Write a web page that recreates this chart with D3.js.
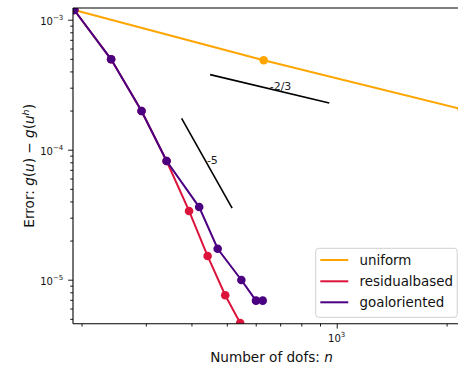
<!DOCTYPE html>
<html>
<head>
<meta charset="utf-8">
<script src="https://cdn.jsdelivr.net/npm/d3@7"></script>
<style>
  html, body { margin: 0; padding: 0; background: #fff; }
  svg { display: block; font-family: "DejaVu Sans", sans-serif; }
</style>
</head>
<body>
<svg id="chart" width="458" height="369"></svg>
<script>
// ---- data ----
const seriesNames = ["uniform", "residualbased", "goaloriented"];
const seriesColors = ["#FFA500", "#DC143C", "#4B0082"];

const uniformDofs = [191, 631, 2200];
const uniformErr  = [1.187e-3, 4.87e-4, 2.05e-4];

const residualDofs = [191, 241, 292, 342, 394, 443, 495, 544];
const residualErr  = [1.187e-3, 4.96e-4, 1.985e-4, 8.18e-5, 3.38e-5, 1.52e-5, 7.59e-6, 4.65e-6];

const goalDofs = [191, 241, 292, 342, 420, 472, 548, 601, 627];
const goalErr  = [1.187e-3, 4.96e-4, 1.985e-4, 8.18e-5, 3.62e-5, 1.73e-5, 9.95e-6, 6.9e-6, 6.9e-6];

// slope indicators
const slopeLabels    = ["-2/3", "-5"];
const slopeRates     = [-2/3, -5];
const slopeStartDofs = [450, 376];
const slopeStartErr  = [3.78e-4, 1.744e-4];
const slopeEndDofs   = [954, 517];

const xMajorTicks = [1000];
const xTickLabels = ["3"];
const yMajorTicks = [1e-5, 1e-4, 1e-3];
const yTickLabels = ["\u22125", "\u22124", "\u22123"];

// ---- layout ----
const svg = d3.select("#chart");
const L = 73, T = 8, B = 323.7, R = 470;

const x = d3.scaleLog().domain([189.5, 2318]).range([L, R]);
const y = d3.scaleLog().domain([4.587e-6, 1.2303e-3]).range([B, T]);

// clip
svg.append("defs").append("clipPath").attr("id", "clip")
  .append("rect").attr("x", L).attr("y", T).attr("width", R - L).attr("height", B - T);

// minor ticks
const xMinor = x.ticks().filter(v => !xMajorTicks.includes(v));
const yMinor = y.ticks().filter(v => !yMajorTicks.some(m => Math.abs(m - v) / m < 1e-9));

const gx = svg.append("g").attr("transform", `translate(0,${B})`);
gx.call(d3.axisBottom(x).tickValues(xMinor).tickSize(2.8).tickFormat(""));
gx.call(g => g.select(".domain").remove());
const gx2 = svg.append("g").attr("transform", `translate(0,${B})`);
gx2.call(d3.axisBottom(x).tickValues(xMajorTicks).tickSize(4.9).tickFormat(""));
gx2.call(g => g.select(".domain").remove());

const gy = svg.append("g").attr("transform", `translate(${L},0)`);
gy.call(d3.axisLeft(y).tickValues(yMinor).tickSize(2.8).tickFormat(""));
gy.call(g => g.select(".domain").remove());
const gy2 = svg.append("g").attr("transform", `translate(${L},0)`);
gy2.call(d3.axisLeft(y).tickValues(yMajorTicks).tickSize(4.9).tickFormat(""));
gy2.call(g => g.select(".domain").remove());

svg.selectAll(".tick line").attr("stroke", "#000").attr("stroke-width", 0.9);

// tick labels
xMajorTicks.forEach((v, i) => {
  const t = svg.append("text").attr("x", x(v)).attr("y", 342.3)
    .attr("text-anchor", "middle").attr("font-size", 10).attr("fill", "#111");
  t.append("tspan").text("10");
  t.append("tspan").attr("dy", -5).attr("font-size", 7).text(xTickLabels[i]);
});
yMajorTicks.forEach((v, i) => {
  const t = svg.append("text").attr("x", 63.3).attr("y", y(v) + 5)
    .attr("text-anchor", "end").attr("font-size", 10).attr("fill", "#111");
  t.append("tspan").text("10");
  t.append("tspan").attr("dy", -5).attr("font-size", 7).text(yTickLabels[i]);
});

// series
const plot = svg.append("g").attr("clip-path", "url(#clip)");
const allDofs = [uniformDofs, residualDofs, goalDofs];
const allErr = [uniformErr, residualErr, goalErr];
const line = d3.line().x(d => x(d[0])).y(d => y(d[1]));

allDofs.forEach((dofs, s) => {
  const pts = dofs.map((n, i) => [n, allErr[s][i]]);
  plot.append("path").datum(pts).attr("d", line)
    .attr("fill", "none").attr("stroke", seriesColors[s]).attr("stroke-width", 2);
  plot.selectAll(null).data(pts).enter().append("circle")
    .attr("cx", d => x(d[0])).attr("cy", d => y(d[1])).attr("r", 4.3)
    .attr("fill", seriesColors[s]);
});

// slope indicators
slopeLabels.forEach((lab, i) => {
  const n0 = slopeStartDofs[i], e0 = slopeStartErr[i], n1 = slopeEndDofs[i];
  const e1 = e0 * Math.pow(n1 / n0, slopeRates[i]);
  plot.append("line").attr("x1", x(n0)).attr("y1", y(e0)).attr("x2", x(n1)).attr("y2", y(e1))
    .attr("stroke", "#000").attr("stroke-width", 1.6);
  const nm = Math.sqrt(n0 * n1), em = Math.sqrt(e0 * e1);
  svg.append("text").attr("x", x(nm)).attr("y", y(em) + 1)
    .attr("font-size", 11).attr("fill", "#222").text(lab);
});

// spines
svg.append("line").attr("x1", L).attr("x2", L).attr("y1", T).attr("y2", B).attr("stroke", "#000").attr("stroke-width", 1.1);
svg.append("line").attr("x1", L).attr("x2", R).attr("y1", B).attr("y2", B).attr("stroke", "#000").attr("stroke-width", 1.1);
svg.append("line").attr("x1", L).attr("x2", R).attr("y1", T).attr("y2", T).attr("stroke", "#000").attr("stroke-width", 1.1);
svg.append("line").attr("x1", R).attr("x2", R).attr("y1", T).attr("y2", B).attr("stroke", "#000").attr("stroke-width", 1.1);

// axis labels
const xl = svg.append("text").attr("x", (L + R) / 2).attr("y", 362.3).attr("text-anchor", "middle")
  .attr("font-size", 13.6).attr("fill", "#111");
xl.append("tspan").text("Number of dofs: ");
xl.append("tspan").attr("font-style", "italic").text("n");

const yl = svg.append("text").attr("transform", `translate(34,${(T + B) / 2}) rotate(-90)`)
  .attr("text-anchor", "middle").attr("font-size", 13.6).attr("fill", "#111");
yl.append("tspan").text("Error: ");
yl.append("tspan").attr("font-style", "italic").text("g");
yl.append("tspan").text("(");
yl.append("tspan").attr("font-style", "italic").text("u");
yl.append("tspan").text(") \u2212 ");
yl.append("tspan").attr("font-style", "italic").text("g");
yl.append("tspan").text("(");
yl.append("tspan").attr("font-style", "italic").text("u");
yl.append("tspan").attr("font-style", "italic").attr("font-size", 9.5).attr("dy", -5).text("h");
yl.append("tspan").attr("dy", 5).text(")");

// legend
const lg = svg.append("g");
lg.append("rect").attr("x", 315.7).attr("y", 248.3).attr("width", 141.5).attr("height", 69)
  .attr("rx", 3).attr("fill", "#fff").attr("fill-opacity", 0.8)
  .attr("stroke", "#d0d0d0").attr("stroke-width", 1);
const rowY = [260, 281.3, 302.3];
seriesNames.forEach((name, i) => {
  lg.append("line").attr("x1", 320.3).attr("x2", 348.3).attr("y1", rowY[i]).attr("y2", rowY[i])
    .attr("stroke", seriesColors[i]).attr("stroke-width", 2);
  lg.append("text").attr("x", 359.5).attr("y", rowY[i] + 4.8)
    .attr("font-size", 13.4).attr("fill", "#111").text(name);
});
</script>
</body>
</html>
